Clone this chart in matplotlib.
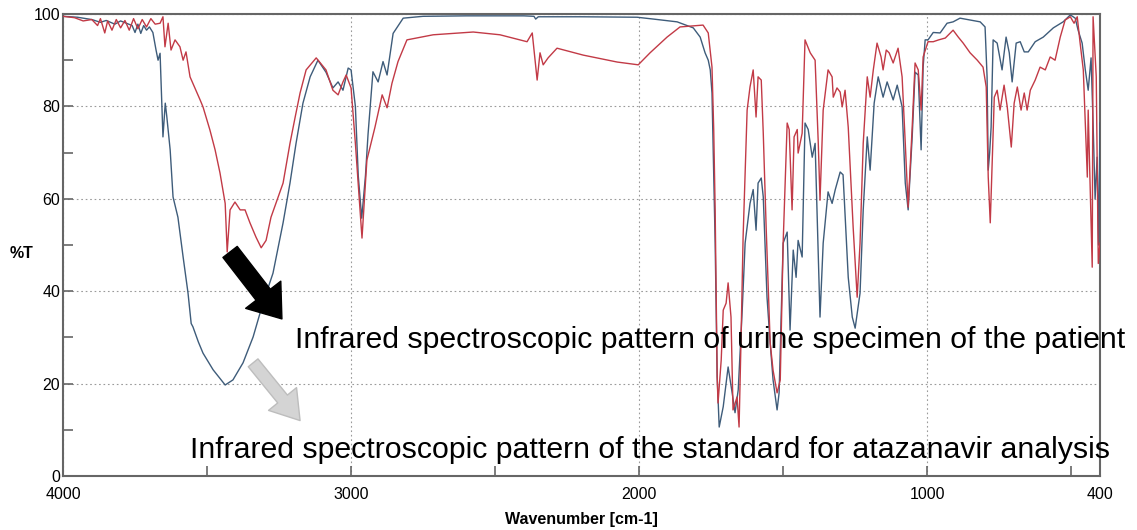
import matplotlib
matplotlib.use("Agg")
import matplotlib.pyplot as plt

# standard for atazanavir (blue) - wavenumber, %T
std_wn = [4000, 3950, 3900, 3870, 3850, 3820, 3800, 3780, 3760, 3750, 3740, 3730, 3720,
          3710, 3700, 3688, 3677, 3670, 3663, 3653, 3645, 3640, 3628, 3618, 3601, 3583,
          3566, 3555, 3549, 3530, 3514, 3479, 3437, 3425, 3410, 3375, 3340, 3306, 3271,
          3236, 3212, 3191, 3167, 3142, 3115, 3087, 3063, 3045, 3028, 3010, 3000, 2985,
          2975, 2963, 2950, 2941, 2924, 2906, 2889, 2875, 2854, 2819, 2750, 2600, 2400,
          2365, 2359, 2350, 2200, 2007, 1950, 1868, 1812, 1788, 1771, 1760, 1753, 1747,
          1741, 1736, 1729, 1722, 1708, 1691, 1677, 1667, 1656, 1642, 1632, 1615, 1604,
          1594, 1587, 1576, 1569, 1556, 1545, 1535, 1521, 1514, 1500, 1486, 1476, 1465,
          1455, 1448, 1434, 1424, 1413, 1399, 1389, 1372, 1361, 1344, 1330, 1319, 1302,
          1292, 1274, 1260, 1250, 1233, 1222, 1208, 1198, 1184, 1170, 1153, 1139, 1118,
          1104, 1087, 1076, 1066, 1052, 1042, 1031, 1021, 1014, 1007, 997, 979, 955, 931,
          910, 886, 851, 816, 799, 792, 788, 783, 778, 771, 757, 740, 726, 715, 705, 691,
          677, 663, 649, 625, 597, 562, 528, 503, 486, 476, 462, 451, 441, 431, 424, 417,
          410, 405, 400]
std_t = [99.5, 99.3, 98.8, 98.2, 98.6, 97.8, 98.5, 98.0, 97.5, 96.0, 97.8, 95.8, 97.5,
         96.5, 97.2, 96.0, 92.2, 90.0, 91.5, 73.4, 80.7, 78.0, 70.6, 60.4, 56.0, 47.4,
         39.6, 33.0, 32.3, 29.0, 26.6, 23.0, 19.7, 20.2, 20.8, 24.5, 30.1, 37.4, 43.9,
         54.8, 63.4, 72.0, 80.7, 86.4, 90.0, 87.4, 84.0, 85.3, 83.5, 88.3, 87.9, 80.0,
         65.0, 55.8, 65.0, 74.0, 87.5, 85.3, 89.7, 86.8, 95.8, 99.1, 99.5, 99.6, 99.6,
         99.5, 98.9, 99.4, 99.4, 99.3, 98.9, 98.3, 97.0, 95.0, 91.6, 90.0, 87.9, 82.9,
         65.0, 50.4, 21.5, 10.6, 15.0, 23.6, 18.0, 13.7, 18.6, 36.0, 50.4, 59.0, 62.0,
         53.2, 63.4, 64.5, 60.4, 38.7, 28.8, 20.8, 14.3, 18.0, 50.4, 52.8, 31.6, 48.9,
         43.0, 51.0, 47.4, 76.4, 75.0, 69.0, 72.0, 34.4, 50.4, 61.5, 59.0, 62.0, 65.8,
         65.2, 43.0, 34.4, 32.0, 39.6, 57.6, 73.4, 66.2, 80.7, 86.4, 82.0, 85.3, 81.4,
         84.6, 79.9, 63.4, 57.6, 73.4, 87.4, 86.8, 70.6, 88.5, 94.4, 94.4, 96.0, 95.9, 98.0,
         98.3, 99.1, 98.7, 98.3, 97.2, 86.4, 66.2, 70.0, 75.5, 94.4, 93.7, 87.9, 95.0, 91.6, 85.3, 93.7,
         94.0, 91.8, 91.8, 94.0, 95.0, 97.0, 98.3, 99.8, 99.1, 96.5, 93.7, 87.9, 83.5, 90.5, 76.4, 60.0,
         69.0, 50.0, 76.4]

# urine specimen of the patient (red)
uri_wn = [4000, 3960, 3930, 3900, 3880, 3870, 3855, 3845, 3830, 3815, 3800, 3785, 3770,
          3755, 3740, 3725, 3710, 3695, 3680, 3663, 3653, 3646, 3635, 3625, 3611, 3594,
          3583, 3573, 3559, 3542, 3524, 3514, 3490, 3472, 3455, 3437, 3430, 3420, 3403,
          3385, 3368, 3351, 3330, 3312, 3295, 3278, 3253, 3236, 3212, 3194, 3177, 3156,
          3121, 3087, 3063, 3045, 3028, 3017, 3000, 2985, 2962, 2945, 2917, 2892, 2875,
          2858, 2837, 2806, 2715, 2576, 2483, 2389, 2371, 2354, 2344, 2333, 2316, 2285,
          2194, 2076, 2003, 1962, 1903, 1858, 1778, 1760, 1747, 1741, 1736, 1729, 1726,
          1715, 1708, 1698, 1691, 1681, 1674, 1660, 1653, 1646, 1639, 1625, 1615, 1604,
          1594, 1587, 1576, 1569, 1559, 1545, 1535, 1521, 1510, 1500, 1486, 1479, 1469,
          1462, 1451, 1448, 1434, 1424, 1406, 1389, 1378, 1372, 1361, 1344, 1330, 1326,
          1313, 1302, 1295, 1285, 1274, 1257, 1243, 1233, 1222, 1208, 1198, 1187, 1174,
          1160, 1153, 1142, 1132, 1118, 1101, 1087, 1076, 1066, 1052, 1042, 1031, 1021,
          1014, 997, 979, 960, 937, 910, 892, 875, 851, 826, 806, 795, 788, 781, 774, 767,
          757, 747, 733, 722, 708, 698, 687, 674, 663, 653, 642, 625, 608, 590, 573, 556,
          538, 521, 503, 490, 479, 469, 458, 444, 441, 427, 424, 413, 406, 400]
uri_t = [99.5, 99.2, 98.5, 98.8, 97.5, 99.0, 95.9, 98.5, 96.5, 98.8, 97.0, 98.6, 96.5,
         99.0, 96.8, 98.8, 97.2, 99.0, 97.8, 98.0, 99.4, 92.9, 98.0, 92.2, 94.4, 92.9,
         90.0, 91.8, 86.4, 84.0, 81.4, 79.9, 74.9, 70.6, 65.6, 59.0, 48.5, 57.6, 59.3,
         57.6, 57.6, 54.8, 51.7, 49.4, 51.0, 56.0, 60.4, 63.4, 72.0, 77.7, 82.9, 87.9,
         90.5, 87.9, 83.5, 82.5, 85.3, 86.8, 84.0, 72.0, 51.5, 68.4, 75.5, 82.5, 79.7,
         85.0, 89.7, 94.4, 95.5, 96.1, 95.5, 94.0, 95.9, 85.7, 91.6, 89.0, 90.5, 92.6,
         91.1, 89.6, 89.0, 91.6, 95.0, 97.2, 97.6, 95.9, 88.5, 75.0, 57.6, 21.4, 15.8,
         25.1, 35.9, 37.4, 41.8, 34.4, 14.3, 17.1, 10.6, 30.0, 51.7, 79.2, 84.2, 87.9,
         77.7, 86.4, 85.7, 74.2, 53.9, 28.8, 22.9, 18.0, 20.8, 50.4, 76.4, 75.0, 57.6,
         73.4, 75.0, 69.9, 74.2, 94.4, 91.6, 90.0, 72.0, 59.7, 79.2, 87.9, 86.4, 82.0,
         84.0, 83.1, 79.9, 83.5, 75.5, 53.9, 38.7, 50.4, 72.0, 86.4, 82.0, 87.9, 93.7,
         90.7, 87.9, 92.2, 91.6, 89.4, 92.6, 86.4, 72.0, 58.2, 75.5, 89.4, 87.9, 79.2,
         90.7, 94.0, 94.0, 94.4, 94.8, 96.5, 95.0, 93.7, 91.6, 90.0, 88.5, 84.2, 64.7, 54.8, 68.4, 82.0,
         83.5, 79.2, 84.6, 79.9, 71.2, 80.7, 84.2, 79.2, 82.9, 79.2, 83.5, 85.7, 88.5, 87.9, 90.7, 90.0,
         95.0, 98.7, 99.4, 98.0, 99.4, 93.7, 87.9, 64.7, 79.2, 45.2, 99.4, 86.4, 46.0, 50.4]

label_urine = "Infrared spectroscopic pattern of urine specimen of the patient"
label_std = "Infrared spectroscopic pattern of the standard for atazanavir analysis"

tick_font = "Liberation Sans"

fig = plt.figure(figsize=(11.37, 5.30), dpi=100)
ax = fig.add_axes([63 / 1137, 1 - 476 / 530, (1100 - 63) / 1137, (476 - 14) / 530])

ax.plot(std_wn, std_t, color="#3e5c7a", lw=1.0, zorder=3)
ax.plot(uri_wn, uri_t, color="#c23a46", lw=1.0, zorder=3)

ax.set_xlim(4000, 400)
ax.set_ylim(0, 100)
ax.set_xticks([4000, 3000, 2000, 1000, 400])
ax.set_xticks([3500, 2500, 1500, 500], minor=True)
ax.set_yticks([0, 20, 40, 60, 80, 100])
ax.set_yticks([10, 30, 50, 70, 90], minor=True)
ax.grid(True, which="major", color="#9a9a9a", lw=0.8, linestyle=(0, (1.5, 2.5)))
ax.tick_params(which="both", direction="in", length=7, color="#666666", width=1.2)
ax.tick_params(axis="x", pad=8)
ax.tick_params(axis="y", pad=2)
for lab in ax.get_xticklabels() + ax.get_yticklabels():
    lab.set_family(tick_font)
    lab.set_fontsize(11.5)

for sp in ax.spines.values():
    sp.set_color("#666666")
    sp.set_linewidth(1.5)

ax.set_xlabel("Wavenumber [cm-1]", family=tick_font, fontsize=11.5, fontweight="bold", labelpad=7)
fig.text(22 / 1137, 1 - 253 / 530, "%T", family=tick_font, fontsize=11.5, fontweight="bold",
         ha="center", va="center")

# arrows pointing at the two captions
ax.annotate("", xy=(3240, 34.0), xytext=(3420, 48.5),
            arrowprops=dict(arrowstyle="simple,head_length=1.1,head_width=1.6,tail_width=0.65",
                            mutation_scale=20, color="black", shrinkA=0, shrinkB=0), zorder=5)
ax.annotate("", xy=(3177, 12.0), xytext=(3340, 24.5),
            arrowprops=dict(arrowstyle="simple,head_length=1.0,head_width=1.3,tail_width=0.45",
                            mutation_scale=20, fc="#d4d4d4", ec="#bdbdbd", shrinkA=0, shrinkB=0), zorder=5)

ax.text(3194, 29.4, label_urine, fontsize=21.8, family="Liberation Sans",
        ha="left", va="center", zorder=6, clip_on=False)
ax.text(3559, 5.6, label_std, fontsize=21.8, family="Liberation Sans",
        ha="left", va="center", zorder=6, clip_on=False)

fig.savefig("out.png", dpi=100)
